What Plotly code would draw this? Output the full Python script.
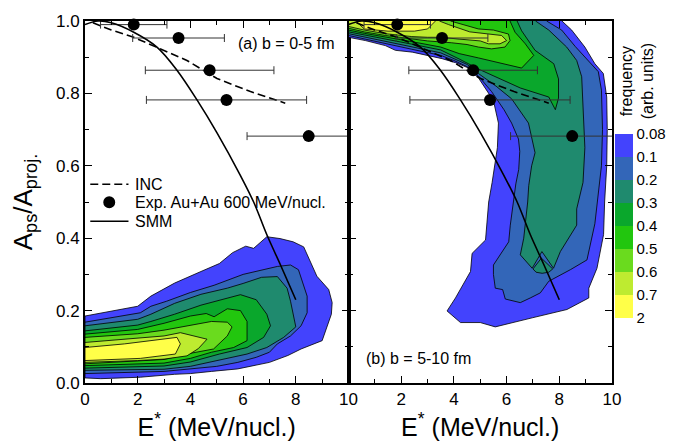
import plotly.graph_objects as go

# ---------------- data ----------------
# level boundaries (frequency, arb. units) and their fill colours
level_labels = ["0.08", "0.1", "0.2", "0.3", "0.4", "0.5", "0.6", "0.7", "2"]
level_colors = ["#4343FD", "#3366B8", "#1F8A6E", "#0AA72C", "#22C60E", "#6ADB1E", "#BEEB30", "#FFFF48"]

# panel (a) b = 0-5 fm : contour regions (E*, Aps/Aproj) for each level >= label
a_008_x = [0, 0.7, 2.0, 2.5, 3.4, 4.4, 5.1, 5.6, 6.1, 6.4, 6.9, 7.4, 7.9, 8.3, 8.56, 8.8, 9.25, 9.38, 9.35, 9.0, 8.2, 7.7, 7.0, 6.4, 5.8, 4.8, 4.0, 3.4, 2.1, 0.6, 0]
a_008_y = [0.185, 0.194, 0.212, 0.24, 0.276, 0.308, 0.33, 0.36, 0.378, 0.372, 0.404, 0.399, 0.39, 0.376, 0.336, 0.295, 0.258, 0.222, 0.19, 0.117, 0.094, 0.076, 0.057, 0.048, 0.039, 0.032, 0.026, 0.024, 0.016, 0.012, 0.014]
a_01_x = [0, 0.7, 2.1, 2.5, 3.1, 4.0, 4.9, 6.0, 7.3, 7.8, 8.1, 8.43, 8.43, 8.2, 7.8, 7.3, 7.0, 6.5, 5.8, 5.0, 4.0, 3.0, 0]
a_01_y = [0.168, 0.176, 0.194, 0.212, 0.226, 0.25, 0.27, 0.30, 0.322, 0.326, 0.313, 0.24, 0.194, 0.158, 0.13, 0.108, 0.085, 0.071, 0.057, 0.046, 0.04, 0.032, 0.026]
a_02_x = [0, 2.0, 2.5, 3.4, 4.4, 5.4, 6.0, 6.7, 7.3, 7.67, 7.8, 8.0, 7.54, 6.9, 6.15, 5.0, 4.0, 3.0, 0]
a_02_y = [0.158, 0.176, 0.19, 0.22, 0.245, 0.262, 0.275, 0.292, 0.294, 0.262, 0.226, 0.155, 0.126, 0.098, 0.080, 0.062, 0.046, 0.038, 0.035]
a_03_x = [0, 2.0, 2.5, 3.4, 4.4, 5.4, 5.9, 6.5, 6.9, 7.04, 6.78, 6.15, 5.1, 4.0, 3.0, 0]
a_03_y = [0.144, 0.160, 0.17, 0.19, 0.215, 0.235, 0.244, 0.23, 0.19, 0.158, 0.126, 0.098, 0.080, 0.058, 0.047, 0.041]
a_04_x = [0, 2.0, 3.0, 4.0, 4.6, 4.9, 5.4, 5.9, 6.15, 6.15, 5.64, 4.8, 4.0, 3.0, 0]
a_04_y = [0.135, 0.148, 0.165, 0.185, 0.192, 0.183, 0.205, 0.20, 0.17, 0.117, 0.098, 0.085, 0.068, 0.055, 0.048]
a_05_x = [0, 2.0, 3.0, 4.0, 4.8, 5.4, 5.58, 5.4, 4.88, 4.0, 3.0, 0]
a_05_y = [0.126, 0.136, 0.146, 0.16, 0.17, 0.168, 0.155, 0.13, 0.094, 0.082, 0.065, 0.053]
a_06_x = [0, 1.5, 3.0, 3.62, 4.2, 4.63, 4.3, 3.87, 3.0, 2.0, 0]
a_06_y = [0.112, 0.12, 0.13, 0.139, 0.128, 0.121, 0.095, 0.075, 0.066, 0.062, 0.057]
a_07_x = [0, 1.5, 3.49, 3.62, 3.43, 2.1, 0]
a_07_y = [0.098, 0.108, 0.126, 0.108, 0.08, 0.068, 0.062]

# panel (b) b = 5-10 fm
b_008_x = [0, 8.1, 8.1, 8.47, 8.97, 9.35, 9.67, 9.8, 9.82, 9.8, 9.72, 9.68, 9.43, 9.12, 9.12, 8.29, 6.97, 6.02, 5.57, 5.0, 4.25, 3.74, 4.06, 4.63, 4.69, 5.2, 5.26, 5.32, 5.45, 5.65, 5.69, 5.5, 4.94, 4.56, 4.06, 3.55, 2.42, 1.78, 1.4, 0.64, 0]
b_008_y = [1.05, 1.05, 1.0, 0.975, 0.928, 0.882, 0.855, 0.79, 0.70, 0.60, 0.5, 0.41, 0.317, 0.262, 0.235, 0.203, 0.180, 0.162, 0.155, 0.167, 0.167, 0.199, 0.235, 0.308, 0.358, 0.395, 0.445, 0.5, 0.554, 0.65, 0.718, 0.78, 0.842, 0.87, 0.885, 0.896, 0.914, 0.919, 0.932, 0.946, 0.955]
b_01_x = [0, 7.52, 7.52, 8.09, 8.6, 9.1, 9.48, 9.6, 9.64, 9.6, 9.45, 9.35, 9.05, 8.42, 7.6, 7.28, 6.9, 6.52, 5.95, 5.85, 5.57, 5.5, 5.5, 6.08, 6.14, 6.27, 6.35, 6.46, 6.5, 6.45, 6.19, 5.9, 5.43, 4.93, 4.5, 4.0, 3.5, 2.4, 1.4, 0.6, 0]
b_01_y = [1.05, 1.05, 1.0, 0.975, 0.93, 0.891, 0.86, 0.809, 0.70, 0.6, 0.5, 0.44, 0.34, 0.313, 0.281, 0.249, 0.235, 0.222, 0.232, 0.258, 0.262, 0.30, 0.326, 0.39, 0.436, 0.504, 0.55, 0.59, 0.64, 0.674, 0.718, 0.755, 0.805, 0.848, 0.874, 0.891, 0.905, 0.922, 0.938, 0.951, 0.96]
b_02_x = [0, 7.1, 7.1, 7.6, 8.28, 8.66, 8.85, 8.91, 8.97, 8.9, 8.66, 8.66, 8.04, 7.78, 7.34, 6.97, 6.52, 6.65, 6.71, 6.8, 6.84, 6.95, 7.08, 6.83, 6.19, 5.6, 4.93, 4.5, 3.5, 2.4, 1.4, 0.6, 0]
b_02_y = [1.05, 1.05, 1.0, 0.975, 0.928, 0.891, 0.846, 0.746, 0.65, 0.554, 0.481, 0.436, 0.363, 0.317, 0.363, 0.317, 0.354, 0.40, 0.436, 0.50, 0.545, 0.6, 0.636, 0.718, 0.785, 0.82, 0.855, 0.88, 0.912, 0.929, 0.944, 0.956, 0.965]
b_03_x = [0, 6.4, 6.4, 6.57, 7.08, 7.79, 7.97, 7.97, 7.85, 7.6, 6.52, 5.0, 4.2, 3.5, 2.4, 1.4, 0.6, 0]
b_03_y = [1.05, 1.05, 1.0, 0.973, 0.919, 0.882, 0.84, 0.787, 0.755, 0.79, 0.815, 0.865, 0.895, 0.92, 0.936, 0.95, 0.961, 0.97]
b_04_x = [0, 6.13, 6.13, 6.32, 6.71, 7.03, 6.57, 6.07, 5.43, 4.93, 4.2, 3.5, 2.4, 1.4, 0.6, 0]
b_04_y = [1.05, 1.05, 1.0, 0.969, 0.937, 0.905, 0.87, 0.878, 0.888, 0.898, 0.91, 0.928, 0.943, 0.955, 0.966, 0.975]
b_05_x = [0, 3.87, 3.87, 4.5, 4.93, 5.5, 6.07, 6.13, 5.94, 5.43, 4.93, 4.5, 3.9, 3.0, 2.4, 1.4, 0.6, 0]
b_05_y = [1.05, 1.05, 1.0, 0.987, 0.978, 0.975, 0.964, 0.946, 0.928, 0.923, 0.928, 0.935, 0.94, 0.945, 0.95, 0.96, 0.97, 0.98]
b_06_x = [0, 3.45, 3.45, 3.8, 4.6, 5.37, 5.81, 6.0, 5.75, 5.31, 5.0, 4.2, 3.5, 3.0, 2.4, 1.4, 0.6, 0]
b_06_y = [1.05, 1.05, 1.0, 0.99, 0.97, 0.964, 0.96, 0.946, 0.937, 0.937, 0.945, 0.95, 0.955, 0.955, 0.957, 0.965, 0.975, 0.985]
b_07_x = [0.27, 3.3, 3.3, 3.0, 2.5, 1.5, 0.6, 0.27]
b_07_y = [1.05, 1.05, 1.0, 0.978, 0.972, 0.972, 0.978, 1.0]
b_02b_x = [7.0, 7.32, 7.75, 7.6, 7.35, 7.12]   # small 0.2-level patch under the notch
b_02b_y = [0.315, 0.345, 0.315, 0.306, 0.303, 0.306]

# model curves
inc_x = [0.3, 1.0, 1.85, 2.73, 3.87, 5.01, 6.28, 7.6]
inc_y = [0.995, 0.975, 0.955, 0.928, 0.891, 0.841, 0.805, 0.773]
smm_x = [0.0, 0.5, 1.0, 1.85, 2.73, 3.49, 4.25, 5.01, 5.9, 6.4, 6.91, 7.42, 8.0]
smm_y = [0.99, 1.0, 0.995, 0.969, 0.928, 0.864, 0.782, 0.691, 0.573, 0.5, 0.408, 0.326, 0.23]

# experiment Au+Au 600 MeV/nucl.
exp_x = [1.85, 3.55, 4.73, 5.37, 8.49]
exp_y = [0.99, 0.953, 0.864, 0.782, 0.682]
exp_xerr = [1.26, 1.74, 2.44, 3.04, 2.34]

x_ticks = [0, 2, 4, 6, 8, 10]
x_ticks_b = [2, 4, 6, 8, 10]

legend_labels = ["INC", "Exp. Au+Au 600 MeV/nucl.", "SMM"]

# ---------------- figure ----------------
FONT = "Arial, 'Liberation Sans', sans-serif"
fig = go.Figure()

panel_a = [(a_008_x, a_008_y, 0), (a_01_x, a_01_y, 1), (a_02_x, a_02_y, 2), (a_03_x, a_03_y, 3),
           (a_04_x, a_04_y, 4), (a_05_x, a_05_y, 5), (a_06_x, a_06_y, 6), (a_07_x, a_07_y, 7)]
panel_b = [(b_008_x, b_008_y, 0), (b_01_x, b_01_y, 1), (b_02_x, b_02_y, 2), (b_02b_x, b_02b_y, 2),
           (b_03_x, b_03_y, 3), (b_04_x, b_04_y, 4), (b_05_x, b_05_y, 5), (b_06_x, b_06_y, 6),
           (b_07_x, b_07_y, 7)]


def closed(v):
    return list(v) + [v[0]]


for panel, (xa, ya) in ((panel_a, ("x", "y")), (panel_b, ("x2", "y2"))):
    for px, py, lev in panel:
        fig.add_trace(go.Scatter(x=closed(px), y=closed(py), mode="lines", fill="toself",
                                 fillcolor=level_colors[lev], line=dict(color="black", width=0.8),
                                 xaxis=xa, yaxis=ya, showlegend=False, hoverinfo="skip"))

DASH = "8px,4px"
for xa, ya in (("x", "y"), ("x2", "y2")):
    fig.add_trace(go.Scatter(x=inc_x, y=inc_y, mode="lines", name=legend_labels[0],
                             line=dict(color="black", width=1.6, dash=DASH),
                             xaxis=xa, yaxis=ya, showlegend=False))
    fig.add_trace(go.Scatter(x=exp_x, y=exp_y, mode="markers", showlegend=False,
                             marker=dict(size=1, color="rgba(0,0,0,0)"),
                             error_x=dict(type="data", array=exp_xerr, color="#333333", thickness=1, width=4),
                             xaxis=xa, yaxis=ya))
    fig.add_trace(go.Scatter(x=exp_x, y=exp_y, mode="markers", name=legend_labels[1],
                             marker=dict(size=12, color="black"), cliponaxis=False,
                             xaxis=xa, yaxis=ya, showlegend=False))
    fig.add_trace(go.Scatter(x=smm_x, y=smm_y, mode="lines", name=legend_labels[2], line_shape="spline",
                             line=dict(color="black", width=1.6),
                             xaxis=xa, yaxis=ya, showlegend=False))

# colour bar (discrete levels; 0.08 at top, 2 at bottom)
n = len(level_colors)
cscale = []
for i, c in enumerate(reversed(level_colors)):
    cscale.append([i / n, c])
    cscale.append([(i + 1) / n, c])
fig.add_trace(go.Scatter(x=[None], y=[None], mode="markers", showlegend=False, xaxis="x2", yaxis="y2",
                         marker=dict(color=[0], cmin=0, cmax=n, colorscale=cscale, showscale=True,
                                     colorbar=dict(x=1.0057, xanchor="left", xpad=0, y=0.4344, yanchor="middle",
                                                   ypad=0, thickness=18, lenmode="pixels", len=184,
                                                   outlinewidth=0, ticks="", tickvals=list(range(n + 1)),
                                                   ticktext=list(reversed(level_labels)),
                                                   tickfont=dict(family=FONT, size=15, color="black")))))

axis_common = dict(showline=True, linewidth=2, linecolor="black", mirror="ticks", ticks="inside",
                   tickwidth=1.3, tickcolor="black", ticklen=7, showgrid=False, zeroline=False,
                   tickfont=dict(family=FONT, size=17, color="black"))
minor_x = dict(ticks="inside", ticklen=4, dtick=1, tickcolor="black", tickwidth=1.3)
minor_y = dict(ticks="inside", ticklen=4, dtick=0.1, tickcolor="black", tickwidth=1.3)
xt = dict(text="E<sup>*</sup> (MeV/nucl.)", font=dict(family=FONT, size=25, color="black"), standoff=6)

# hand-made legend in the left panel (glyphs + text)
leg_font = dict(family=FONT, size=16, color="black")
leg_rows_y = [0.549, 0.4995, 0.447]
shapes = [
    dict(type="line", xref="x", yref="y", x0=0.2, x1=1.65, y0=leg_rows_y[0], y1=leg_rows_y[0],
         line=dict(color="black", width=1.6, dash=DASH)),
    dict(type="circle", xref="x", yref="y", xsizemode="pixel", ysizemode="pixel",
         xanchor=0.92, yanchor=leg_rows_y[1], x0=-6, x1=6, y0=-6, y1=6,
         fillcolor="black", line=dict(color="black", width=0)),
    dict(type="line", xref="x", yref="y", x0=0.2, x1=1.65, y0=leg_rows_y[2], y1=leg_rows_y[2],
         line=dict(color="black", width=1.6)),
]
annotations = [
    dict(text=t, x=1.83, y=yy, xref="x", yref="y", xanchor="left", yanchor="middle",
         showarrow=False, font=leg_font)
    for t, yy in zip(legend_labels, leg_rows_y)
]
annotations += [
    dict(text="(a) b = 0-5 fm", x=7.63, y=0.937, xref="x", yref="y", showarrow=False,
         font=dict(family=FONT, size=16, color="black")),
    dict(text="(b) b = 5-10 fm", x=2.67, y=0.067, xref="x2", yref="y2", showarrow=False,
         font=dict(family=FONT, size=16, color="black")),
    dict(text="frequency<br>(arb. units)", x=1.049, y=0.833, xref="paper", yref="paper", showarrow=False,
         xanchor="center", yanchor="middle", textangle=-90, font=dict(family=FONT, size=16, color="black")),
]

fig.update_layout(
    width=679, height=445, margin=dict(l=85, r=67, t=17, b=62),
    paper_bgcolor="white", plot_bgcolor="white",
    font=dict(family=FONT, color="black"),
    xaxis=dict(domain=[0, 0.5], range=[0, 10], tickvals=x_ticks, anchor="y", title=xt,
               minor=minor_x, **axis_common),
    xaxis2=dict(domain=[0.5, 1], range=[0, 10], tickvals=x_ticks_b, anchor="y2", title=xt,
                minor=minor_x, **axis_common),
    yaxis=dict(domain=[0, 1], range=[0, 1], dtick=0.2, tickformat=".1f", anchor="x",
               title=dict(text="A<sub>ps</sub>/A<sub>proj.</sub>", font=dict(family=FONT, size=26, color="black"), standoff=16),
               minor=minor_y, **axis_common),
    yaxis2=dict(domain=[0, 1], range=[0, 1], dtick=0.2, anchor="x2", showticklabels=False,
                minor=minor_y, **axis_common),
    showlegend=False,
    shapes=shapes,
    annotations=annotations,
)

fig.write_html("out.html")
